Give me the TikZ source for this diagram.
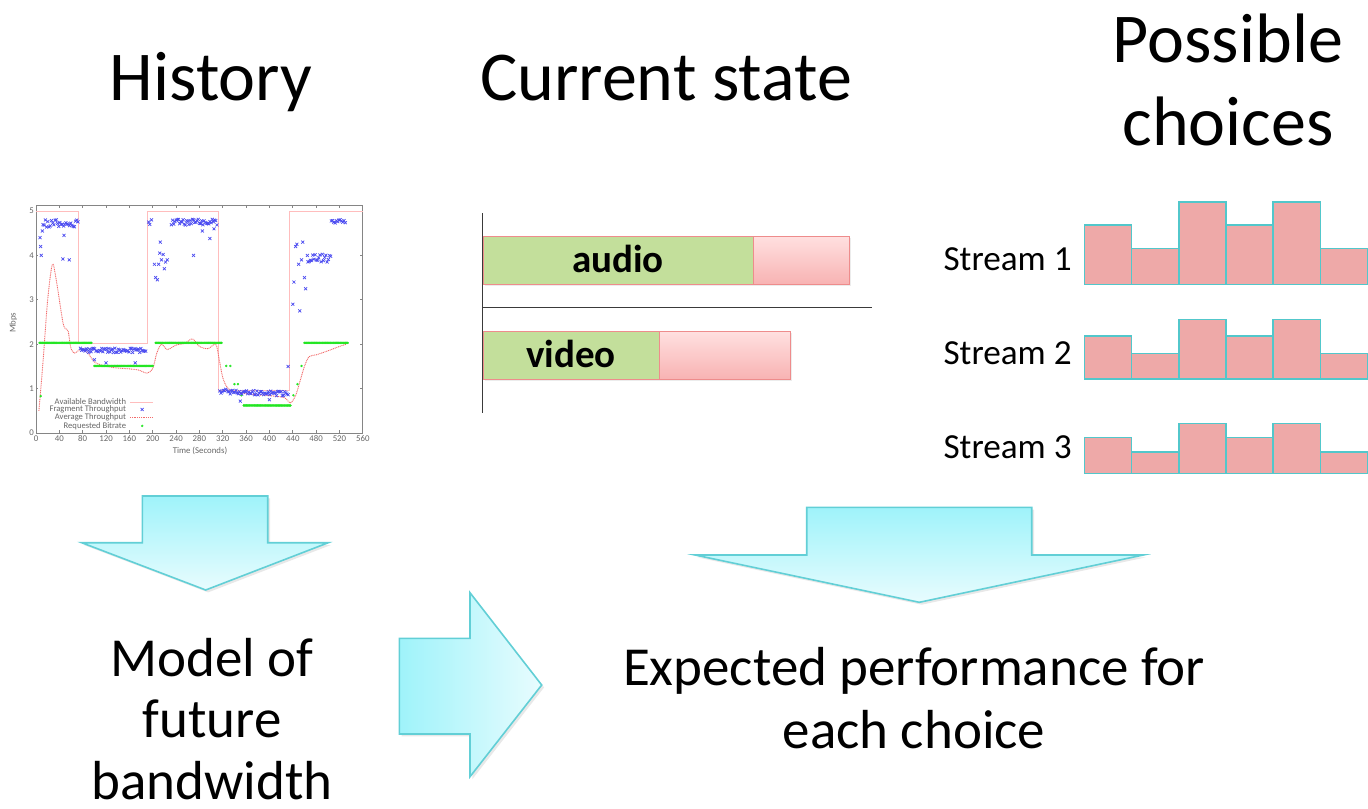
\documentclass[tikz,border=0pt]{standalone}
\usepackage{fontspec}
\setmainfont{Carlito}
\usetikzlibrary{shadows}

\definecolor{arrowtop}{HTML}{9FF3FA}
\definecolor{arrowbot}{HTML}{E8FCFE}
\definecolor{arrowedge}{HTML}{62CFD6}
\definecolor{barfill}{HTML}{EEA9A8}
\definecolor{baredge}{HTML}{52C7CB}
\definecolor{bufgreen}{HTML}{C3DF9B}
\definecolor{buftop}{HTML}{FFE0E0}
\definecolor{bufbot}{HTML}{F8B3B3}
\definecolor{bufedge}{HTML}{EE8C8C}
\definecolor{axisgray}{HTML}{3A3A3A}
\definecolor{plotgray}{HTML}{666666}
\definecolor{availred}{HTML}{FFBDBD}
\definecolor{fragblue}{HTML}{4A4AF0}
\definecolor{avgred}{HTML}{F26A6A}
\definecolor{reqgreen}{HTML}{22E622}

% stacked segment bars of one stream: bottom edge, then the three bar heights
\newcommand\streambars[4]{%
  \foreach \i/\h in {0/#2,1/#3,2/#4,3/#2,4/#4,5/#3}
    \draw[segbar] ({1084.3+47.2*\i},#1) rectangle ({1084.3+47.2*(\i+1)},{#1-\h});%
}

\begin{document}
\begin{tikzpicture}[x=0.5pt,y=-0.5pt,
  title/.style={font=\fontsize{35pt}{42pt}\selectfont, inner sep=0pt, anchor=base},
  caption/.style={font=\fontsize{27.5pt}{33pt}\selectfont, inner sep=0pt, anchor=base},
  streamlabel/.style={font=\fontsize{17.6pt}{21pt}\selectfont, inner sep=0pt, anchor=base east},
  buflabel/.style={font=\bfseries\fontsize{19.5pt}{23pt}\selectfont, inner sep=0pt, anchor=base},
  blockarrow/.style={draw=arrowedge, line width=0.8pt, line join=miter,
    drop shadow={opacity=0.18, shadow xshift=1.2pt, shadow yshift=-1.2pt}},
  down shade/.style={top color=arrowtop, bottom color=arrowbot},
  right shade/.style={left color=arrowtop, right color=arrowbot},
  segbar/.style={fill=barfill, draw=baredge, line width=0.8pt},
  greenbuf/.style={fill=bufgreen, draw=bufedge, line width=0.5pt},
  pinkbuf/.style={top color=buftop, bottom color=bufbot, draw=bufedge, line width=0.5pt},
  bufshadow/.style={drop shadow={opacity=0.15, shadow xshift=1pt, shadow yshift=-1pt}},
  axisline/.style={draw=axisgray, line width=0.6pt},
  plotframe/.style={draw=plotgray!80, line width=0.4pt},
  ticklabel/.style={font=\fontsize{4.4pt}{5pt}\selectfont, text=plotgray, inner sep=0.6pt},
  legendlabel/.style={font=\fontsize{4.3pt}{5pt}\selectfont, text=plotgray, inner sep=0pt, anchor=east},
  avail/.style={draw=availred, line width=0.3pt},
  fragment/.style={mark options={draw=fragblue, line width=0.35pt}},
  average/.style={draw=avgred, line width=0.45pt, dash pattern=on 0.5pt off 0.4pt},
  request/.style={mark options={fill=reqgreen, draw=reqgreen, line width=0.1pt}}
]
\useasboundingbox (0,0) rectangle (1368,808);
\clip (0,0) rectangle (1368,808);

% ---------- column titles ----------
\node[title] (hist) at (211,100) {History};
\node[title] (cur) at (666,100) {Current state};
\node[title] (poss1) at (1228,62) {Possible};
\node[title] (poss2) at (1228,145) {choices};

% ---------- bandwidth history plot ----------
\begin{scope}[shift={(36,433)}, x=0.2918pt, y=22.2pt]
  \pgfmathsetseed{7}
  \draw[plotframe] (0,0) rectangle (560,5.135);
  \foreach \v in {0,...,5} {
    \draw[plotframe] (0,\v) -- (4,\v) (560,\v) -- (556,\v);
    \node[ticklabel, anchor=east] (ytick\v) at (-1,\v) {\v};
  }
  \foreach \t in {0,40,...,560} {
    \draw[plotframe] (\t,0) -- (\t,0.07) (\t,5.135) -- (\t,5.065);
    \node[ticklabel, anchor=north] (xtick\t) at (\t,-0.02) {\t};
  }
  \node[ticklabel] (xtitle) at (281,-0.4) {Time (Seconds)};
  \node[ticklabel, rotate=90] (ytitle) at (-39,2.48) {Mbps};

  % available bandwidth
  \draw[avail] (0,5) -- (72,5) -- (72,2.01) -- (191,2.01) -- (191,5) -- (312,5)
    -- (312,0.96) -- (434,0.96) -- (434,5) -- (560,5);

  % average throughput
  \draw[average] plot[smooth, tension=0.5] coordinates {
    (5,0.5) (12,1.6) (20,3.0) (28,3.8) (34,3.5) (40,3.0) (46,2.5) (50,2.35)
    (55,2.3) (60,1.9) (66,1.8) (72,1.85) (80,1.9) (90,1.78) (100,1.6) (115,1.52)
    (135,1.47) (155,1.45) (175,1.42) (190,1.35) (200,1.45) (207,1.8) (215,2.0)
    (225,1.88) (240,1.98) (255,2.02) (268,2.12) (280,1.95) (295,1.9) (308,2.0)
    (314,1.65) (320,1.25) (328,1.02) (340,0.93) (370,0.87) (400,0.84) (425,0.8)
    (436,0.68) (445,0.85) (452,1.15) (460,1.5) (468,1.72) (480,1.76) (500,1.85)
    (520,1.95) (532,2.0)};

  % requested bitrate
  \foreach \a/\b/\v/\n in {6/95/2.03/60, 100/200/1.51/64, 205/318/2.03/72,
                           356/436/0.62/52, 460/534/2.03/48}
    \path[request] plot[only marks, mark=*, mark size=0.55pt, domain=\a:\b, samples=\n] (\x,\v);
  \path[request] plot[only marks, mark=*, mark size=0.55pt] coordinates {
    (8,0.83) (326,1.51) (333,1.51) (340,1.1) (346,1.1) (352,0.85)
    (441,0.85) (448,1.1) (455,1.51)};

  % fragment throughput
  \path[fragment] plot[only marks, mark=x, mark size=1.05pt, domain=12:72, samples=30] (\x,{4.72+0.08*rand});
  \path[fragment] plot[only marks, mark=x, mark size=1.05pt, domain=76:188, samples=56] (\x,{1.86+0.05*rand});
  \path[fragment] plot[only marks, mark=x, mark size=1.05pt, domain=232:310, samples=40] (\x,{4.75+0.07*rand});
  \path[fragment] plot[only marks, mark=x, mark size=1.05pt, domain=315:432, samples=60] (\x,{0.88+0.05*rand+0.06*(1-(\x-315)/117)});
  \path[fragment] plot[only marks, mark=x, mark size=1.05pt, domain=466:505, samples=20] (\x,{3.95+0.1*rand});
  \path[fragment] plot[only marks, mark=x, mark size=1.05pt, domain=506:530, samples=12] (\x,{4.76+0.06*rand});
  \path[fragment] plot[only marks, mark=x, mark size=1.05pt] coordinates {
    (7,4.4) (8,4.2) (9,4.0) (11,4.55) (46,3.92) (48,4.45) (57,3.9)
    (100,1.65) (120,1.58) (170,1.58)
    (193,4.75) (195,4.7) (198,4.8)
    (203,3.8) (205,3.5) (208,3.45) (210,3.8) (212,4.05) (213,4.3) (215,3.9)
    (218,4.02) (220,3.7) (222,3.85) (225,3.9)
    (270,4.0) (285,4.55) (298,4.38) (305,4.6) (350,0.72) (400,0.75)
    (432,1.5) (440,2.9) (442,3.4) (445,4.2) (447,4.25) (450,3.8) (452,2.75)
    (455,3.9) (457,4.3) (460,3.5) (462,3.25) (465,4.0)};

  % legend
  \node[legendlabel] (leg1) at (155,0.70) {Available Bandwidth};
  \node[legendlabel] (leg2) at (155,0.53) {Fragment Throughput};
  \node[legendlabel] (leg3) at (155,0.35) {Average Throughput};
  \node[legendlabel] (leg4) at (155,0.16) {Requested Bitrate};
  \draw[avail] (161,0.70) -- (200,0.70);
  \path[fragment] plot[only marks, mark=x, mark size=1.05pt] coordinates {(182,0.53)};
  \draw[average] (161,0.35) -- (200,0.35);
  \path[request] plot[only marks, mark=*, mark size=0.55pt] coordinates {(182,0.16)};
\end{scope}

% ---------- current buffer state ----------
\draw[axisline] (482.7,213) -- (482.7,413);
\draw[axisline] (482.7,307.3) -- (871.7,307.3);
\draw[greenbuf, bufshadow] (483,236) rectangle (753.3,284);
\draw[pinkbuf, bufshadow] (753.3,236) rectangle (849,284);
\node[buflabel] (audio) at (618,272) {audio};
\draw[greenbuf, bufshadow] (483,331) rectangle (659.3,379);
\draw[pinkbuf, bufshadow] (659.3,331) rectangle (790,379);
\node[buflabel] (video) at (571,367) {video};

% ---------- candidate streams ----------
\node[streamlabel] (s1) at (1072,270) {Stream 1};
\node[streamlabel] (s2) at (1072,364) {Stream 2};
\node[streamlabel] (s3) at (1072,458) {Stream 3};
\streambars{284.3}{59.6}{36}{82.6}
\streambars{379}{43.3}{25.7}{59.7}
\streambars{473.3}{36}{21.3}{50}

% ---------- block arrows ----------
\draw[blockarrow, down shade] (142.3,496) -- (267.7,496) -- (267.7,542.7) -- (328.3,542.7)
  -- (205.7,590) -- (81.7,542.7) -- (142.3,542.7) -- cycle;
\draw[blockarrow, right shade] (399.3,638.3) -- (470,638.3) -- (470,592.7) -- (541.7,685)
  -- (470,776.7) -- (470,734) -- (399.3,734) -- cycle;
\draw[blockarrow, down shade] (806.7,507.3) -- (1031.7,507.3) -- (1031.7,555) -- (1143.3,555)
  -- (919.3,602.3) -- (695,555) -- (806.7,555) -- cycle;

% ---------- outcomes ----------
\node[caption] (model1) at (212,676) {Model of};
\node[caption] (model2) at (212,737) {future};
\node[caption] (model3) at (212,799) {bandwidth};
\node[caption] (perf1) at (914,685) {Expected performance for};
\node[caption] (perf2) at (914,748) {each choice};
\end{tikzpicture}
\end{document}
